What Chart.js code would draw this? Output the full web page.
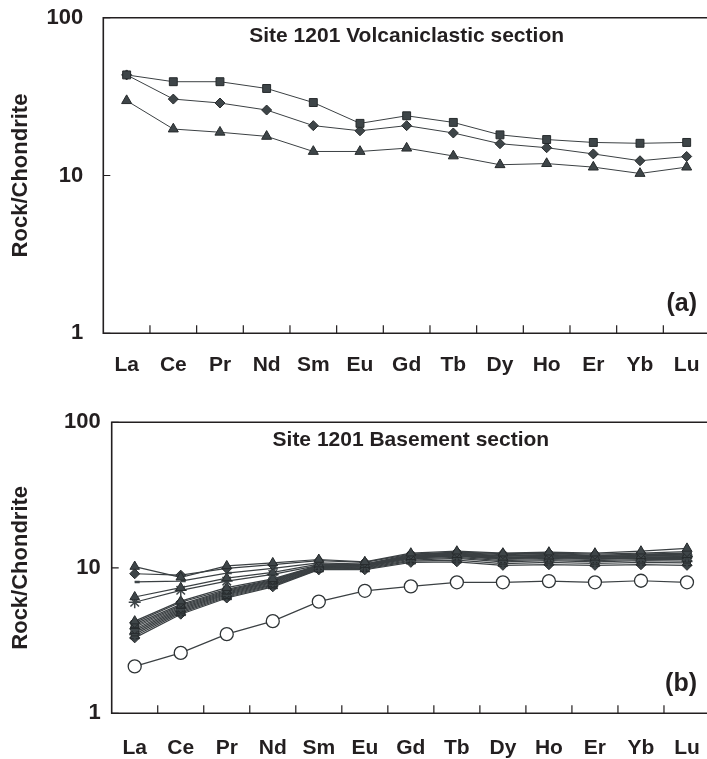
<!DOCTYPE html>
<html>
<head>
<meta charset="utf-8">
<title>Site 1201 REE patterns</title>
<script src="https://cdn.jsdelivr.net/npm/chart.js@4.4.1/dist/chart.umd.min.js"></script>
<style>
  html, body { margin: 0; padding: 0; background: #fff; overflow: hidden; }
  body { width: 707px; height: 759px; position: relative; }
  .panel { position: absolute; left: 0; width: 712px; }
  #panelA { top: 0; height: 385px; }
  #panelB { top: 390px; height: 369px; }
</style>
</head>
<body>
<div class="panel" id="panelA"><canvas id="chartA"></canvas></div>
<div class="panel" id="panelB"><canvas id="chartB"></canvas></div>
<script>
// Chondrite-normalised REE, ODP Site 1201
const elements = ['La', 'Ce', 'Pr', 'Nd', 'Sm', 'Eu', 'Gd', 'Tb', 'Dy', 'Ho', 'Er', 'Yb', 'Lu'];
const yTicks = [1, 10, 100];

// (a) volcaniclastic section
const volcSquare   = [43.4, 39.3, 39.3, 35.6, 29.0, 21.4, 23.9, 21.7, 18.1, 16.9, 16.2, 16.0, 16.2];
const volcDiamond  = [43.4, 30.5, 28.8, 26.0, 20.7, 19.2, 20.7, 18.6, 15.9, 15.0, 13.7, 12.4, 13.2];
const volcTriangle = [29.8, 19.7, 18.8, 17.7, 14.2, 14.2, 14.9, 13.3, 11.7, 11.9, 11.3, 10.3, 11.3];

// (b) basement section - flat-lying basalts with LREE enrichment
const baseTriA   = [10.2, 8.6, 10.3, 10.8, 11.4, 11.0, 12.6, 13.0, 12.6, 12.8, 12.6, 13.0, 13.6];
const baseDiaA   = [9.1, 8.9, 9.9, 10.5, 11.2, 10.9, 12.4, 12.8, 12.5, 12.6, 12.4, 12.6, 12.9];
const baseDashA  = [8.0, 8.1, 9.2, 9.9, 10.8, 10.6, 12.1, 12.5, 12.1, 12.3, 12.1, 12.3, 12.5];
const baseTriB   = [6.3, 7.3, 8.5, 9.3, 10.6, 10.5, 11.9, 12.3, 11.8, 12.0, 11.8, 12.1, 12.3];
const baseStarA  = [5.8, 7.0, 8.1, 9.0, 10.4, 10.3, 11.7, 12.1, 11.6, 11.8, 11.6, 11.8, 12.0];
// (b) basement section - LREE-depleted group
const baseDep1  = [4.3, 5.9, 7.3, 8.4, 10.4, 10.6, 12.3, 12.7, 12.3, 12.5, 12.2, 12.4, 12.6];
const baseDep2  = [4.2, 5.8, 7.1, 8.3, 10.3, 10.5, 12.2, 12.6, 12.1, 12.3, 12.0, 12.2, 12.4];
const baseDep3  = [4.1, 5.6, 7.0, 8.2, 10.3, 10.4, 12.1, 12.4, 12.0, 12.2, 11.9, 12.1, 12.2];
const baseDep4  = [4.0, 5.5, 6.9, 8.1, 10.2, 10.3, 12.0, 12.3, 11.8, 12.0, 11.8, 12.0, 12.1];
const baseDep5  = [3.9, 5.4, 6.8, 8.0, 10.1, 10.2, 11.9, 12.2, 11.7, 11.9, 11.6, 11.8, 11.9];
const baseDep6  = [3.8, 5.3, 6.7, 7.9, 10.0, 10.2, 11.8, 12.1, 11.5, 11.8, 11.5, 11.7, 11.8];
const baseDep7  = [3.7, 5.2, 6.6, 7.8, 10.0, 10.1, 11.7, 12.0, 11.4, 11.6, 11.4, 11.6, 11.6];
const baseDep8  = [3.6, 5.1, 6.5, 7.7, 9.9, 10.0, 11.5, 11.8, 11.2, 11.4, 11.2, 11.4, 11.4];
const baseDep9  = [3.5, 5.0, 6.4, 7.6, 9.8, 9.9, 11.3, 11.6, 11.0, 11.2, 11.0, 11.2, 11.1];
const baseDep10 = [3.4, 4.9, 6.3, 7.5, 9.8, 9.8, 11.1, 11.3, 10.7, 10.9, 10.7, 10.9, 10.8];
const baseDep11 = [3.3, 4.8, 6.2, 7.4, 9.7, 9.7, 10.9, 11.0, 10.4, 10.5, 10.4, 10.5, 10.4];
const baseOpen  = [2.1, 2.6, 3.5, 4.3, 5.85, 6.95, 7.45, 7.95, 7.95, 8.1, 7.95, 8.15, 7.95];

const INK = '#231f20';
const LINE = '#3b4043';
const MARK = '#3e4548';
const EDGE = '#272b2d';
const FONT = "'Liberation Sans', Arial, Helvetica, sans-serif";

function series(data, style, extra) {
  return Object.assign({
    data,
    pointStyle: style,
    borderColor: LINE,
    borderWidth: 1,
    pointBackgroundColor: MARK,
    pointBorderColor: EDGE,
    pointBorderWidth: 1,
    pointRadius: 5.5,
    tension: 0,
    fill: false,
  }, extra || {});
}

// frame (left, top, bottom), inward tick marks, heading and panel letter
const panelFrame = {
  id: 'panelFrame',
  beforeDatasetsDraw(chart, args, opts) {
    const { ctx, chartArea: a } = chart;
    const x = chart.scales.x, y = chart.scales.y;
    ctx.save();
    ctx.strokeStyle = INK;
    ctx.lineWidth = 1.6;
    ctx.beginPath();
    ctx.moveTo(chart.width, a.top);
    ctx.lineTo(a.left, a.top);
    ctx.lineTo(a.left, a.bottom);
    ctx.lineTo(chart.width, a.bottom);
    ctx.stroke();

    ctx.beginPath();
    ctx.lineWidth = 1.2;
    yTicks.forEach((v) => {
      const py = y.getPixelForValue(v);
      ctx.moveTo(a.left, py);
      ctx.lineTo(a.left + 7, py);
    });
    for (let i = 0; i < elements.length - 1; i++) {
      const px = (x.getPixelForValue(i) + x.getPixelForValue(i + 1)) / 2;
      ctx.moveTo(px, a.bottom);
      ctx.lineTo(px, a.bottom - 8);
    }
    ctx.stroke();

    ctx.fillStyle = INK;
    ctx.textBaseline = 'middle';
    ctx.font = 'bold 21px ' + FONT;
    ctx.textAlign = 'center';
    ctx.fillText(opts.heading, (a.left + a.right) / 2, a.top + opts.headingDy);
    ctx.font = 'bold 25px ' + FONT;
    ctx.textAlign = 'right';
    ctx.fillText(opts.letter, opts.letterX, a.bottom - opts.letterDy);
    ctx.restore();
  },
};

// scales keep a fixed size and add no edge padding for their labels
function fixBox(s, w, h) {
  if (w) s.width = w;
  if (h) s.height = h;
  s.paddingLeft = s.paddingRight = s.paddingTop = s.paddingBottom = 0;
}

function makePanel(canvasId, datasets, g) {
  return new Chart(document.getElementById(canvasId), {
    type: 'line',
    data: { labels: elements, datasets },
    plugins: [panelFrame],
    options: {
      responsive: true,
      maintainAspectRatio: false,
      animation: false,
      layout: { autoPadding: false, padding: { top: g.padTop, right: g.padRight, left: 0, bottom: 0 } },
      plugins: {
        legend: { display: false },
        tooltip: { enabled: false },
        panelFrame: { heading: g.heading, headingDy: g.headingDy, letter: g.letter, letterX: 697, letterDy: 29 },
      },
      scales: {
        x: {
          type: 'category',
          offset: true,
          grid: { display: false, drawTicks: false },
          border: { display: false },
          ticks: { color: INK, padding: g.xPad, maxRotation: 0, autoSkip: false, font: { family: FONT, size: 21, weight: 'bold' } },
          afterFit: (s) => fixBox(s, 0, g.xHeight),
        },
        y: {
          type: 'logarithmic',
          min: 1,
          max: 100,
          grid: { display: false, drawTicks: false },
          border: { display: false },
          afterBuildTicks: (s) => { s.ticks = yTicks.map((v) => ({ value: v })); },
          ticks: {
            color: INK,
            padding: g.yPad,
            font: { family: FONT, size: 22, weight: 'bold' },
            callback: (v) => String(v),
          },
          title: {
            display: true,
            text: 'Rock/Chondrite',
            color: INK,
            padding: { top: 8, bottom: 0 },
            font: { family: FONT, size: 22, weight: 'bold' },
          },
          afterFit: (s) => fixBox(s, g.yWidth, 0),
        },
      },
    },
  });
}

makePanel('chartA', [
  series(volcSquare, 'rect', { pointRadius: 5.6 }),
  series(volcDiamond, 'rectRot', { pointRadius: 5 }),
  series(volcTriangle, 'triangle', { pointRadius: 5.8 }),
], {
  heading: 'Site 1201 Volcaniclastic section', headingDy: 19, letter: '(a)',
  padTop: 17.7, padRight: 2, yWidth: 103.3, yPad: 20, xHeight: 51.7, xPad: 19,
});

const baseStyle = { borderWidth: 1.2 };
makePanel('chartB', [
  series(baseTriA, 'triangle', baseStyle),
  series(baseDiaA, 'rectRot', { ...baseStyle, pointRadius: 5 }),
  series(baseDashA, 'dash', { ...baseStyle, pointRadius: 5, pointBorderWidth: 2.5, pointBorderColor: MARK }),
  series(baseTriB, 'triangle', baseStyle),
  series(baseStarA, 'star', { ...baseStyle, pointRadius: 6, pointBorderWidth: 1.5, pointBorderColor: MARK }),
  series(baseDep1, 'triangle', baseStyle),
  series(baseDep2, 'rectRot', { ...baseStyle, pointRadius: 5 }),
  series(baseDep3, 'rect', { ...baseStyle, pointRadius: 5 }),
  series(baseDep4, 'triangle', baseStyle),
  series(baseDep5, 'crossRot', { ...baseStyle, pointRadius: 5, pointBorderWidth: 2, pointBorderColor: MARK }),
  series(baseDep6, 'rectRot', { ...baseStyle, pointRadius: 5 }),
  series(baseDep7, 'triangle', baseStyle),
  series(baseDep8, 'rect', { ...baseStyle, pointRadius: 5 }),
  series(baseDep9, 'cross', { ...baseStyle, pointRadius: 5.5, pointBorderWidth: 2, pointBorderColor: MARK }),
  series(baseDep10, 'triangle', baseStyle),
  series(baseDep11, 'rectRot', { ...baseStyle, pointRadius: 5 }),
  series(baseOpen, 'circle', { ...baseStyle, pointRadius: 6.5, pointBackgroundColor: '#ffffff', pointBorderColor: '#2f3436', pointBorderWidth: 1.3 }),
], {
  heading: 'Site 1201 Basement section', headingDy: 18, letter: '(b)',
  padTop: 32.3, padRight: 2, yWidth: 111.7, yPad: 11, xHeight: 45.7, xPad: 22,
});
</script>
</body>
</html>
